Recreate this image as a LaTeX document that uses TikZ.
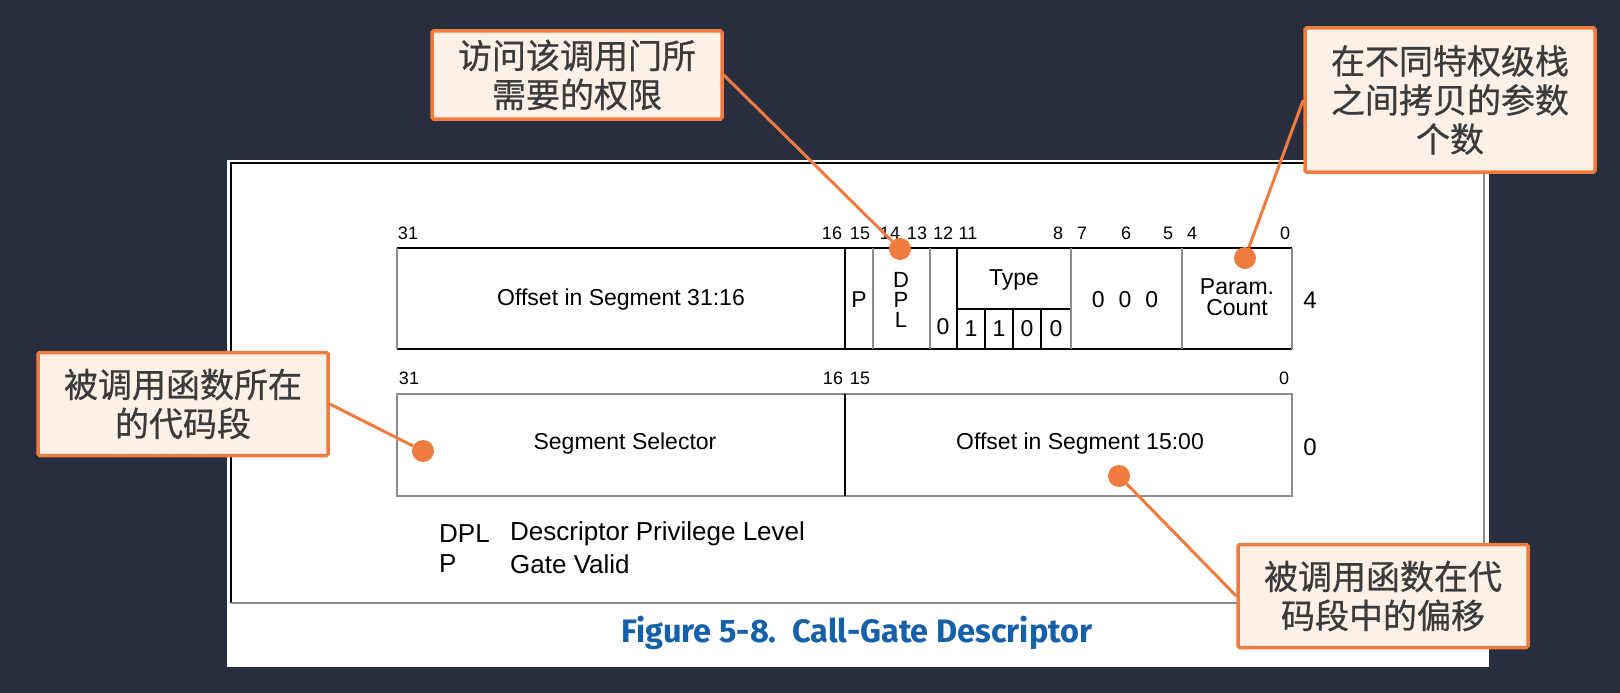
\documentclass[tikz,border=0pt]{standalone}
\usepackage{fontspec}
\setmainfont{Liberation Sans}
\newfontfamily\cjk[FakeBold=0.7]{Noto Sans CJK SC}
\newfontfamily\capfont{Fira Sans}
\usetikzlibrary{positioning, calc}
\definecolor{slidebg}{HTML}{292E3F}
\definecolor{noteorange}{HTML}{F07B3F}
\definecolor{notefill}{HTML}{FDF1E7}
\definecolor{notetext}{HTML}{3B3B3B}
\definecolor{figblue}{HTML}{1560A8}
\definecolor{scangray}{HTML}{8C8C8C}
\tikzset{
  note/.style  = {rectangle, rounded corners=1.5pt, draw=noteorange, line width=3.5pt,
                  fill=notefill, align=center, text=notetext, minimum width=290pt,
                  minimum height=103pt, inner sep=0pt,
                  font=\cjk\fontsize{34}{39}\selectfont},
  lead/.style  = {draw=noteorange, line width=3pt},
  pin/.style   = {circle, fill=noteorange, minimum size=22pt, inner sep=0pt},
  fld/.style   = {font=\fontsize{23}{21}\selectfont, align=center, inner sep=0pt},
  bitno/.style = {font=\fontsize{18}{18}\selectfont, inner sep=0pt},
  rowno/.style = {font=\fontsize{24}{24}\selectfont, inner sep=0pt},
  legend/.style= {font=\fontsize{26}{30}\selectfont, inner sep=0pt, anchor=west},
  hard/.style  = {black, line width=1.4pt},
  soft/.style  = {scangray, line width=2.6pt},
}

\begin{document}
\begin{tikzpicture}[x=1pt, y=-1pt]

\fill[slidebg] (0,0) rectangle (1620,693);
\useasboundingbox (0,0) rectangle (1620,693);

% White page from the manual
\fill[white] (227,160) rectangle (1489,667);
\draw[hard, line width=2pt] (231,603) -- (231,163) -- (1484,163);
\draw[soft] (1484,163) -- (1484,603) -- (231,603);

% Row 4: offset 31:16, P, DPL, type, param count
\draw[hard] (397,248) -- (1292,248);
\draw[hard] (397,349) -- (1292,349);
\draw[soft] (397,248) -- (397,349);
\draw[hard] (845,248) -- (845,349);
\draw[soft] (873,248) -- (873,349);
\draw[soft] (930,248) -- (930,349);
\draw[hard, line width=2pt] (957,248) -- (957,349);
\draw[hard] (957,309) -- (1071,309);
\foreach \x in {985, 1013, 1041}
  \draw[hard] (\x,309) -- (\x,349);
\draw[soft] (1071,248) -- (1071,349);
\draw[soft] (1182,248) -- (1182,349);
\draw[soft] (1292,248) -- (1292,349);

\foreach \n/\x in {31/408, 16/832, 15/860, 14/890, 13/917, 12/943, 11/968,
                   8/1058, 7/1082, 6/1126, 5/1168, 4/1192, 0/1285}
  \node[bitno] at (\x,233) {\n};

\node (off31) [fld] at (621,300) {Offset in Segment 31:16};
\node (pbit)  [fld] at (859,300) {P};
\node (dpl)   [fld, font=\fontsize{22}{20}\selectfont] at (901,300) {D\\P\\L};
\node (zero)  [fld] at (943,327) {0};
\node (type)  [fld] at (1014,280) {Type};
\foreach \v/\x in {1/971, 1/999, 0/1027, 0/1056}
  \node[fld] at (\x,329) {\v};
\node (res)   [fld] at (1125,300) {0\hspace{14pt}0\hspace{14pt}0};
\node (cnt)   [fld] at (1237,297) {Param.\\Count};
\node (row4)  [rowno] at (1310,300) {4};

% Row 0: selector and offset 15:00
\draw[soft, line width=2pt] (397,394) rectangle (1292,496);
\draw[hard] (845,394) -- (845,496);
\foreach \n/\x in {31/409, 16/833, 15/860, 0/1284}
  \node[bitno] at (\x,378) {\n};
\node (sel)   [fld] at (625,444) {Segment Selector};
\node (off15) [fld] at (1080,444) {Offset in Segment 15:00};
\node (row0)  [rowno] at (1310,447) {0};

% Legend and caption
\node (k1) [legend] at (439,534) {DPL};
\node (k1t)[legend] at (510,534) {Descriptor Privilege Level};
\node (k2) [legend] at (439,564) {P};
\node (k2t)[legend] at (510,564) {Gate Valid};
\node (cap) [inner sep=0pt, text=figblue,
  font=\capfont\bfseries\fontsize{32.5}{32}\selectfont] at (857,633)
  {Figure 5-8.\ \ Call-Gate Descriptor};

% Callouts
\node (pdpl) [pin] at (900,249) {};
\node (pcnt) [pin] at (1245,258) {};
\node (psel) [pin] at (423,451) {};
\node (poff) [pin] at (1119,476) {};

\node (ndpl) [note, minimum height=88pt] at (577,75) {访问该调用门所\\需要的权限};
\node (ncnt) [note, minimum height=144pt] at (1450,100) {在不同特权级栈\\之间拷贝的参数\\个数};
\node (nsel) [note] at (183,404) {被调用函数所在\\的代码段};
\node (noff) [note] at (1383,596) {被调用函数在代\\码段中的偏移};

\draw [lead] (ndpl.east) -- (pdpl);
\draw [lead] (ncnt.west) -- (pcnt);
\draw [lead] (nsel.east) -- (psel);
\draw [lead] (noff.west) -- (poff);

\end{tikzpicture}
\end{document}
